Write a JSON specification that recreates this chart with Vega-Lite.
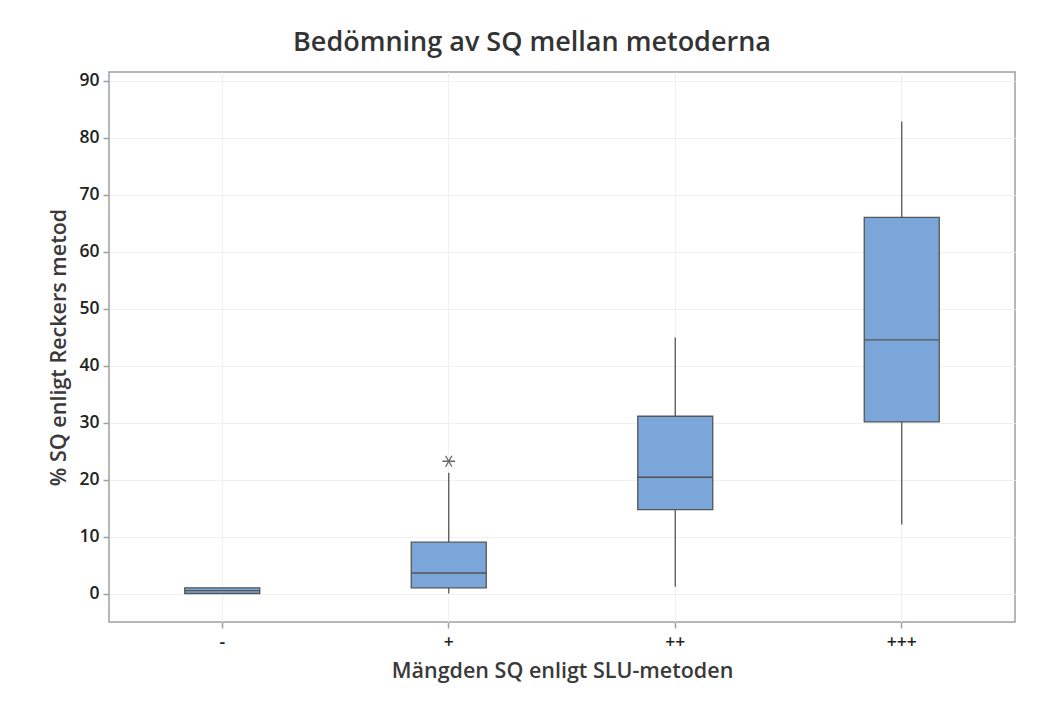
{
  "$schema": "https://vega.github.io/schema/vega-lite/v6.json",
  "width": 906,
  "height": 550,
  "autosize": {"type": "none"},
  "padding": {"left": 109, "top": 72, "right": 43, "bottom": 86},
  "background": "white",
  "title": {
    "text": "Bedömning av SQ mellan metoderna",
    "font": "Open Sans",
    "fontSize": 27,
    "fontWeight": 600,
    "color": "#333333",
    "anchor": "middle",
    "frame": "bounds",
    "offset": 15
  },
  "config": {
    "view": {"stroke": "#a0a0a0", "strokeWidth": 1.5},
    "axis": {
      "labelFont": "Open Sans",
      "labelFontSize": 17.5,
      "labelFontWeight": 600,
      "labelColor": "#222222",
      "titleFont": "Open Sans",
      "titleFontWeight": 600,
      "titleColor": "#3a3a3a",
      "tickColor": "#a0a0a0",
      "tickSize": 6,
      "tickWidth": 1.5,
      "domain": false,
      "gridColor": "#f0f0f0",
      "gridWidth": 1
    }
  },
  "datasets": {
    "boxes": [
      {"grp": "-", "lo": 0, "q1": 0, "med": 0.5, "q3": 1, "hi": 1},
      {"grp": "+", "lo": 0, "q1": 1, "med": 3.6, "q3": 9, "hi": 21.2},
      {"grp": "++", "lo": 1.2, "q1": 14.7, "med": 20.4, "q3": 31.1, "hi": 44.9},
      {"grp": "+++", "lo": 12.1, "q1": 30.1, "med": 44.5, "q3": 66, "hi": 82.8}
    ],
    "outliers": [
      {"grp": "+", "v": 23.2}
    ]
  },
  "encoding": {
    "x": {
      "field": "grp",
      "type": "nominal",
      "sort": ["-", "+", "++", "+++"],
      "scale": {"type": "band", "domain": ["-", "+", "++", "+++"], "paddingInner": 0, "paddingOuter": 0},
      "axis": {
        "title": "Mängden SQ enligt SLU-metoden",
        "titleFontSize": 21.5,
        "titlePadding": 10,
        "labelAngle": 0,
        "labelPadding": 5,
        "grid": true,
        "bandPosition": 0.5
      }
    }
  },
  "layer": [
    {
      "data": {"name": "boxes"},
      "mark": {"type": "rule", "color": "#555555", "strokeWidth": 1.3},
      "encoding": {
        "y": {
          "field": "lo",
          "type": "quantitative",
          "scale": {"domain": [-5, 91.5], "nice": false, "zero": false},
          "axis": {
            "title": "% SQ enligt Reckers metod",
            "titleFontSize": 21.5,
            "titlePadding": 8,
            "values": [0, 10, 20, 30, 40, 50, 60, 70, 80, 90],
            "labelPadding": 4,
            "grid": true
          }
        },
        "y2": {"field": "hi"}
      }
    },
    {
      "data": {"name": "boxes"},
      "mark": {"type": "bar", "size": 75, "fill": "#7ba6d9", "stroke": "#555555", "strokeWidth": 1.3},
      "encoding": {
        "y": {"field": "q1", "type": "quantitative"},
        "y2": {"field": "q3"}
      }
    },
    {
      "data": {"name": "boxes"},
      "mark": {"type": "tick", "size": 75, "thickness": 1.3, "color": "#555555", "opacity": 1},
      "encoding": {
        "y": {"field": "med", "type": "quantitative"}
      }
    },
    {
      "data": {"name": "outliers"},
      "mark": {
        "type": "point",
        "shape": "M-1,0L1,0M-0.5,-0.866L0.5,0.866M-0.5,0.866L0.5,-0.866",
        "size": 160,
        "filled": false,
        "stroke": "#666666",
        "strokeWidth": 1.3,
        "opacity": 1
      },
      "encoding": {
        "y": {"field": "v", "type": "quantitative"}
      }
    }
  ]
}
